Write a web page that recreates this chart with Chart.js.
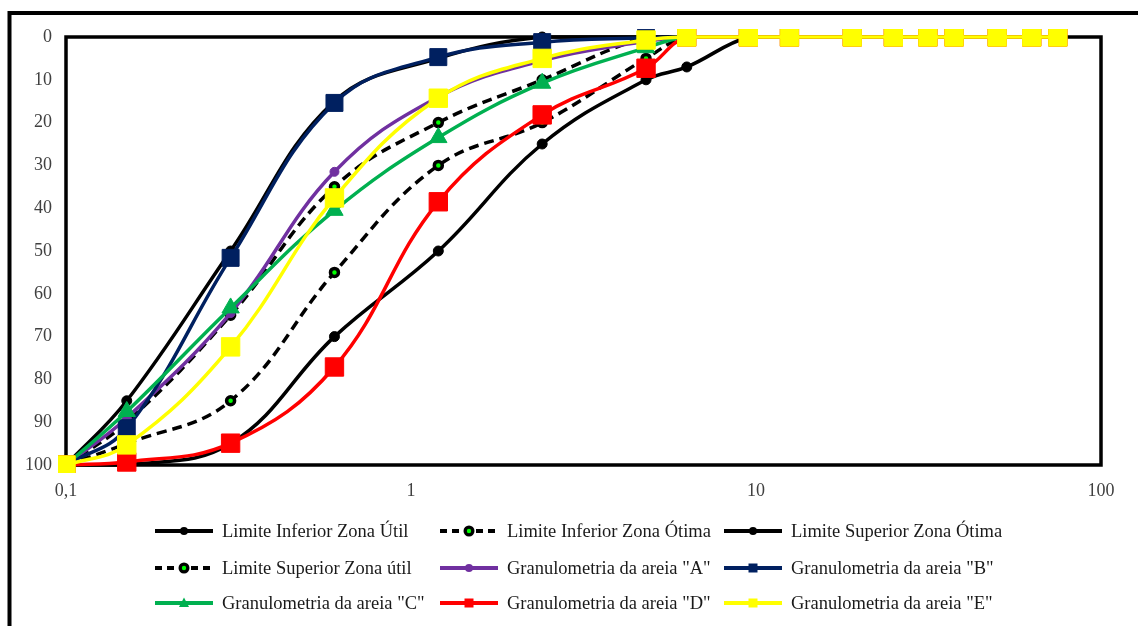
<!DOCTYPE html>
<html>
<head>
<meta charset="utf-8">
<script src="https://cdn.jsdelivr.net/npm/chart.js@4.4.1/dist/chart.umd.min.js"></script>
<style>
  html, body { margin: 0; padding: 0; background: #ffffff; }
  canvas { display: block; }
</style>
</head>
<body>
<canvas id="granulometria" width="1138" height="626"></canvas>
<script>
// Abertura das peneiras (mm)
const sieves = [0.1, 0.15, 0.3, 0.6, 1.2, 2.4, 4.8, 6.3, 9.5, 12.5, 19, 25, 31.5, 37.5, 50, 63, 75];

// Porcentagem retida acumulada (%)
const limInfUtil   = [100, 85, 50, 15, 5, 0, 0, 0, 0, 0, 0, 0, 0, 0, 0, 0, 0];
const limInfOtima  = [100, 90, 65, 35, 20, 10, 0, 0, 0, 0, 0, 0, 0, 0, 0, 0, 0];
const limSupOtima  = [100, 100, 95, 70, 50, 25, 10, 7, 0, 0, 0, 0, 0, 0, 0, 0, 0];
const limSupUtil   = [100, 95, 85, 55, 30, 20, 5, 0, 0, 0, 0, 0, 0, 0, 0, 0, 0];
const areiaA       = [100, 89, 64.5, 31.5, 14, 5.5, 1, 0, 0, 0, 0, 0, 0, 0, 0, 0, 0];
const areiaB       = [100, 91.4, 51.6, 15.4, 4.7, 1.2, 0.2, 0, 0, 0, 0, 0, 0, 0, 0, 0, 0];
const areiaC       = [100, 87.5, 63.3, 40.5, 23.5, 10.8, 2.5, 0, 0, 0, 0, 0, 0, 0, 0, 0, 0];
const areiaD       = [100, 99.3, 94.9, 77.1, 38.5, 18.2, 7.3, 0, 0, 0, 0, 0, 0, 0, 0, 0, 0];
const areiaE       = [100, 95.3, 72.4, 37.6, 14.3, 5, 0.7, 0, 0, 0, 0, 0, 0, 0, 0, 0, 0];

// Rótulos dos eixos
const xTickValues = [0.1, 1, 10, 100];
const xTickLabels = ['0,1', '1', '10', '100'];
const yTickValues = [0, 10, 20, 30, 40, 50, 60, 70, 80, 90, 100];

const seriesNames = [
  'Limite Inferior Zona Útil',
  'Limite Inferior Zona Ótima',
  'Limite Superior Zona Ótima',
  'Limite Superior Zona útil',
  'Granulometria da areia "A"',
  'Granulometria da areia "B"',
  'Granulometria da areia "C"',
  'Granulometria da areia "D"',
  'Granulometria da areia "E"'
];
const seriesValues = [limInfUtil, limInfOtima, limSupOtima, limSupUtil, areiaA, areiaB, areiaC, areiaD, areiaE];

const FONT = '"Liberation Serif", "Times New Roman", serif';

const styles = [
  { color: '#000000', dash: [], point: 'circle', r: 5, bg: '#000000', bw: 1 },
  { color: '#000000', dash: [10, 6], point: 'circle', r: 4, bg: '#00ff00', bw: 3.5 },
  { color: '#000000', dash: [], point: 'circle', r: 5, bg: '#000000', bw: 1 },
  { color: '#000000', dash: [10, 6], point: 'circle', r: 4, bg: '#00ff00', bw: 3.5 },
  { color: '#7030a0', dash: [], point: 'circle', r: 4.5, bg: '#7030a0', bw: 1 },
  { color: '#002060', dash: [], point: 'rect', r: 12, bg: '#002060', bw: 1 },
  { color: '#00b050', dash: [], point: 'triangle', r: 10, bg: '#00b050', bw: 1 },
  { color: '#ff0000', dash: [], point: 'rect', r: 13, bg: '#ff0000', bw: 1 },
  { color: '#ffff00', dash: [], point: 'rect', r: 13, bg: '#ffff00', bw: 1 }
];

const datasets = seriesNames.map((name, i) => ({
  label: name,
  data: sieves.map((s, k) => ({ x: s, y: seriesValues[i][k] })),
  borderColor: styles[i].color,
  backgroundColor: styles[i].bg,
  borderWidth: 3.5,
  borderDash: styles[i].dash,
  pointStyle: styles[i].point,
  pointRadius: styles[i].r,
  pointBackgroundColor: styles[i].bg,
  pointBorderColor: styles[i].dash.length ? '#000000' : styles[i].bg,
  pointBorderWidth: styles[i].bw,
  tension: 0.4,
  fill: false,
  clip: 8,
  order: seriesNames.length - 1 - i
}));

// Molduras: externa (esquerda/topo) e da área de plotagem
const framePlugin = {
  id: 'frames',
  beforeDatasetsDraw(chart) {
    const { ctx, chartArea: a } = chart;
    ctx.save();
    ctx.strokeStyle = '#000000';
    ctx.lineWidth = 4;
    ctx.beginPath();
    ctx.moveTo(9.5, 640);
    ctx.lineTo(9.5, 13);
    ctx.lineTo(1150, 13);
    ctx.stroke();
    ctx.lineWidth = 3.5;
    ctx.strokeRect(a.left, a.top, a.right - a.left, a.bottom - a.top);
    ctx.restore();
  }
};

function drawMarker(ctx, style, x, y, r) {
  ctx.beginPath();
  if (style === 'rect') {
    ctx.rect(x - r, y - r, 2 * r, 2 * r);
  } else if (style === 'triangle') {
    ctx.moveTo(x, y - r * 1.1);
    ctx.lineTo(x + r, y + r * 0.8);
    ctx.lineTo(x - r, y + r * 0.8);
    ctx.closePath();
  } else {
    ctx.arc(x, y, r, 0, Math.PI * 2);
  }
}

// Legenda em grade 3 x 3 abaixo do gráfico
const gridLegend = {
  id: 'gridLegend',
  afterDraw(chart) {
    const { ctx } = chart;
    const colX = [155, 440, 724];
    const rowY = [531, 568, 603];
    const lineLen = 58;
    ctx.save();
    chart.data.datasets.forEach((ds, i) => {
      const x0 = colX[i % 3];
      const y = rowY[Math.floor(i / 3)];
      const st = styles[i];
      ctx.strokeStyle = ds.borderColor;
      ctx.lineWidth = 4;
      ctx.setLineDash(st.dash.length ? [7, 5] : []);
      ctx.beginPath();
      ctx.moveTo(x0, y);
      ctx.lineTo(x0 + lineLen, y);
      ctx.stroke();
      ctx.setLineDash([]);
      const mx = x0 + lineLen / 2;
      if (st.dash.length) {
        ctx.fillStyle = '#000000';
        drawMarker(ctx, 'circle', mx, y, 5.5);
        ctx.fill();
        ctx.fillStyle = '#00ff00';
        drawMarker(ctx, 'circle', mx, y, 2.2);
        ctx.fill();
      } else {
        ctx.fillStyle = st.bg;
        const lr = st.point === 'rect' ? 4.5 : (st.point === 'triangle' ? 5 : 4);
        drawMarker(ctx, st.point, mx, y, lr);
        ctx.fill();
      }
      ctx.fillStyle = '#1a1a1a';
      ctx.font = '18.5px ' + FONT;
      ctx.textAlign = 'left';
      ctx.textBaseline = 'middle';
      ctx.fillText(ds.label, x0 + lineLen + 9, y + 1);
    });
    ctx.restore();
  }
};

new Chart(document.getElementById('granulometria'), {
  type: 'line',
  data: { datasets },
  plugins: [framePlugin, gridLegend],
  options: {
    responsive: false,
    animation: false,
    events: [],
    layout: { padding: { top: 37, right: 37, bottom: 121, left: 0 } },
    plugins: {
      legend: { display: false },
      tooltip: { enabled: false },
      title: { display: false }
    },
    scales: {
      x: {
        type: 'logarithmic',
        min: 0.1,
        max: 100,
        afterBuildTicks: s => { s.ticks = xTickValues.map(v => ({ value: v })); },
        afterFit: s => { s.height = 40; },
        grid: { display: false, drawTicks: false },
        border: { display: false },
        ticks: {
          autoSkip: false,
          maxRotation: 0,
          padding: 15,
          color: '#404040',
          font: { family: FONT, size: 18 },
          callback: (v) => {
            const k = xTickValues.indexOf(v);
            return k >= 0 ? xTickLabels[k] : '';
          }
        }
      },
      y: {
        type: 'linear',
        reverse: true,
        min: 0,
        max: 100,
        afterBuildTicks: s => { s.ticks = yTickValues.map(v => ({ value: v })); },
        afterFit: s => { s.width = 66; },
        grid: { display: false, drawTicks: false },
        border: { display: false },
        ticks: {
          padding: 14,
          color: '#404040',
          font: { family: FONT, size: 18 }
        }
      }
    }
  }
});
</script>
</body>
</html>
